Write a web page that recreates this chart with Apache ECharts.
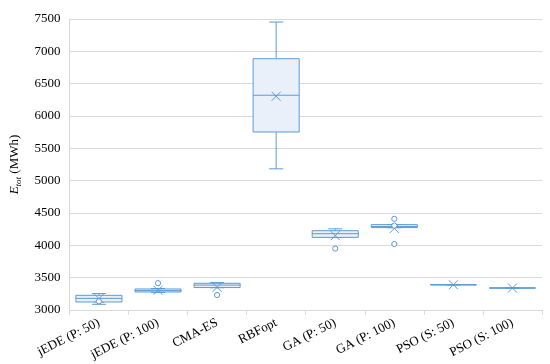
<!DOCTYPE html>
<html>
<head>
<meta charset="utf-8">
<script src="https://cdn.jsdelivr.net/npm/echarts@6/dist/echarts.min.js"></script>
<style>html,body{margin:0;padding:0;background:#fff;}#c{width:550px;height:364px;}</style>
</head>
<body>
<div id="c"></div>
<script>
var categories = ['jEDE (P: 50)', 'jEDE (P: 100)', 'CMA-ES', 'RBFopt', 'GA (P: 50)', 'GA (P: 100)', 'PSO (S: 50)', 'PSO (S: 100)'];
var whiskerLow  = [3088, 3272, 3345, 5183, 4120, 4272, 3390, 3340];
var q1          = [3124, 3279, 3347, 5753, 4123, 4275, 3390, 3340];
var median      = [3180, 3300, 3385, 6321, 4180, 4290, 3390, 3340];
var q3          = [3227, 3325, 3413, 6886, 4226, 4320, 3390, 3340];
var whiskerHigh = [3254, 3332, 3424, 7453, 4255, 4322, 3390, 3340];
var means       = [3177, 3305, 3350, 6305, 4150, 4262, 3390, 3340];
var outliers    = [[3135], [3415], [3232], [], [3950], [4410, 4305, 4020], [], []];
var yTicks = [3000, 3500, 4000, 4500, 5000, 5500, 6000, 6500, 7000, 7500];

var BLUE = '#5b9bd5';
var FONT = '"Liberation Serif", "DejaVu Serif", serif';

var data = categories.map(function (c, i) {
  return [i, whiskerLow[i], q1[i], median[i], q3[i], whiskerHigh[i], means[i]];
});

function renderItem(params, api) {
  var i = api.value(0);
  var center = api.coord([i, api.value(3)]);
  var x = center[0];
  var band = api.size([1, 0])[0];
  var halfW = band * 0.39;
  var capW = 7;
  var yLow = api.coord([i, api.value(1)])[1];
  var yQ1 = api.coord([i, api.value(2)])[1];
  var yMed = center[1];
  var yQ3 = api.coord([i, api.value(4)])[1];
  var yHigh = api.coord([i, api.value(5)])[1];
  var yMean = api.coord([i, api.value(6)])[1];
  var ls = {stroke: BLUE, lineWidth: 1, fill: null};
  var children = [];
  children.push({type: 'line', shape: {x1: x, y1: yHigh, x2: x, y2: yQ3}, style: ls});
  children.push({type: 'line', shape: {x1: x, y1: yLow, x2: x, y2: yQ1}, style: ls});
  children.push({type: 'line', shape: {x1: x - capW, y1: yHigh, x2: x + capW, y2: yHigh}, style: ls});
  children.push({type: 'line', shape: {x1: x - capW, y1: yLow, x2: x + capW, y2: yLow}, style: ls});
  children.push({type: 'rect', shape: {x: x - halfW, y: yQ3, width: halfW * 2, height: Math.max(yQ1 - yQ3, 0)},
    style: {fill: '#eaf0fa', stroke: BLUE, lineWidth: 1}});
  children.push({type: 'line', shape: {x1: x - halfW, y1: yMed, x2: x + halfW, y2: yMed}, style: ls});
  var m = 4.5;
  children.push({type: 'line', shape: {x1: x - m, y1: yMean - m, x2: x + m, y2: yMean + m}, style: ls});
  children.push({type: 'line', shape: {x1: x - m, y1: yMean + m, x2: x + m, y2: yMean - m}, style: ls});
  outliers[i].forEach(function (v) {
    var p = api.coord([i, v]);
    children.push({type: 'circle', shape: {cx: p[0], cy: p[1], r: 2.6}, style: {fill: '#fff', stroke: BLUE, lineWidth: 1}});
  });
  return {type: 'group', children: children};
}

var chart = echarts.init(document.getElementById('c'), null, {renderer: 'canvas'});
chart.setOption({
  animation: false,
  backgroundColor: '#fff',
  grid: {left: 66, right: 8, top: 19, bottom: 54},
  xAxis: {
    type: 'category',
    data: categories,
    boundaryGap: true,
    axisLine: {lineStyle: {color: '#d9d9d9'}},
    axisTick: {show: true, length: 5, lineStyle: {color: '#d9d9d9'}},
    axisLabel: {rotate: 27, margin: 12, interval: 0, color: '#000', fontFamily: FONT, fontSize: 13}
  },
  yAxis: {
    type: 'value',
    min: 3000, max: 7500, interval: 500,
    axisLine: {show: true, lineStyle: {color: '#d9d9d9'}},
    axisTick: {show: false},
    splitLine: {lineStyle: {color: '#d9d9d9'}},
    axisLabel: {color: '#000', fontFamily: FONT, fontSize: 13, margin: 9,
      formatter: function (v) { return yTicks.indexOf(v) >= 0 ? String(v) : ''; }},
    name: '{e|E}{s|tot}{n| (MWh)}',
    nameLocation: 'middle',
    nameRotate: 90,
    nameGap: 43,
    nameTextStyle: {
      rich: {
        e: {fontFamily: FONT, fontStyle: 'italic', fontSize: 13, color: '#000', lineHeight: 18, verticalAlign: 'middle'},
        s: {fontFamily: FONT, fontStyle: 'italic', fontSize: 9, color: '#000', lineHeight: 18, verticalAlign: 'bottom'},
        n: {fontFamily: FONT, fontSize: 13, color: '#000', lineHeight: 18, verticalAlign: 'middle'}
      }
    }
  },
  series: [{
    type: 'custom',
    renderItem: renderItem,
    encode: {x: 0, y: [1, 2, 3, 4, 5]},
    data: data
  }]
});
</script>
</body>
</html>
